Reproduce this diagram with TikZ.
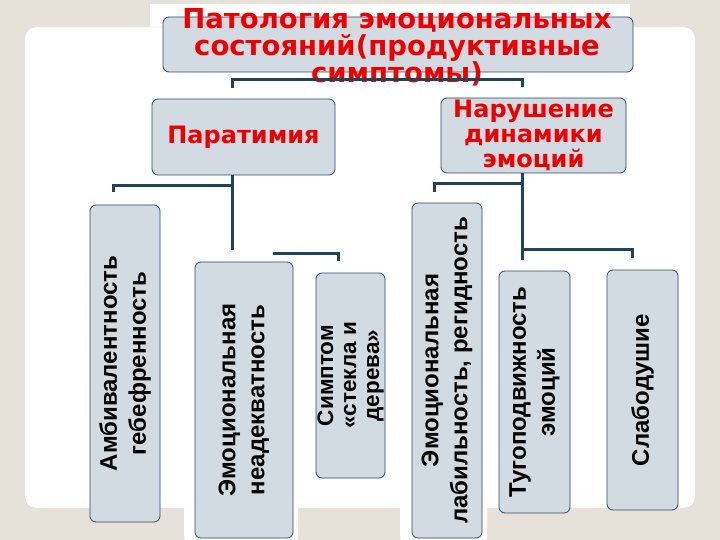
\documentclass[tikz,border=0pt]{standalone}
\usepackage{fontspec}
\setmainfont{Liberation Sans}
\newfontfamily\headfont{DejaVu Sans}
\usetikzlibrary{positioning,calc}

\definecolor{beige}{HTML}{E6E1D9}
\definecolor{boxfill}{HTML}{D3DBE2}
\definecolor{boxline}{HTML}{2C4A63}
\definecolor{wire}{HTML}{1F4459}
\definecolor{headred}{HTML}{EE0000}

\begin{document}
\begin{tikzpicture}[x=1pt,y=-1pt,
        box/.style={draw=boxline, line width=0.8pt, fill=boxfill, rounded corners=6pt, inner sep=0pt, align=center},
        headbox/.style={box, font=\headfont\bfseries\fontsize{24}{25}\selectfont, text=headred},
        headtxt/.style={align=center, font=\headfont\bfseries\fontsize{27.5}{27}\selectfont, text=headred},
        sidebox/.style={box, rotate=90, font=\bfseries\fontsize{24}{29}\selectfont},
        link/.style={draw=wire, line width=3pt, line join=miter}
    ]
        % background, panel and tab
        \fill[beige] (0,0) rectangle (720,540);
        \useasboundingbox (0,0) rectangle (720,540);
        \fill[white] (150,4) rectangle (630,40);
        \filldraw[fill=white, draw=black!15, rounded corners=10pt] (25,27) rectangle (695,508);
        \fill[white, rounded corners=8pt] (184,250) rectangle (298,545);
        \fill[white, rounded corners=8pt] (400,196) rectangle (487,545);

        % top level
        \node[box, minimum width=470pt, minimum height=55pt] (title) at (398,44.5) {};
        \node[headtxt] (titletxt) at (397,47) {Патология эмоциональных\\состояний(продуктивные\\симптомы)};
        \node[headbox, minimum width=183pt, minimum height=76pt] (parat) at (243.5,137) {Паратимия};
        \node[headbox, minimum width=185pt, minimum height=75pt] (narush) at (533.5,135.5) {Нарушение\\динамики\\эмоций};

        % vertical boxes
        \node[sidebox, minimum width=317pt, minimum height=70pt] (amb) at (125,363.5) {Амбивалентность\\гебефренность};
        \node[sidebox, minimum width=276pt, minimum height=98pt] (neadekv) at (244,400) {Эмоциональная\\неадекватность};
        \node[sidebox, minimum width=205pt, minimum height=69pt, font=\bfseries\fontsize{22.5}{23}\selectfont] (simpt) at (350.5,375.5) {Симптом\\«стекла и\\дерева»};
        \node[sidebox, minimum width=335pt, minimum height=70pt] (lab) at (447,370.5) {Эмоциональная\\лабильность, регидность};
        \node[sidebox, minimum width=242pt, minimum height=71pt] (tug) at (534.5,392) {Тугоподвижность\\эмоций};
        \node[sidebox, minimum width=240pt, minimum height=71pt] (slab) at (642.5,390) {Слабодушие};

        % connectors
        \draw[link] ([xshift=-11pt,yshift=11pt]parat.north) |- ([yshift=19pt]parat.north) -| ([xshift=-11pt,yshift=11pt]narush.north);

        \coordinate (pj) at ([xshift=-11pt]parat.south);
        \draw[link] (pj) -- ([yshift=12pt]pj |- neadekv.east);
        \draw[link] ([yshift=-10pt]pj) -| ([xshift=-12pt,yshift=13pt]amb.east);
        \coordinate (sj) at (273,253);
        \draw[link] (sj) -| ([xshift=-12pt,yshift=12pt]simpt.east);

        \coordinate (nj) at ([xshift=-11pt]narush.south);
        \draw[link] (nj) -- ([yshift=11pt]nj |- tug.east);
        \draw[link] ([yshift=-10pt]nj) -| ([xshift=-13pt,yshift=11pt]lab.east);
        \draw[link] ([yshift=-76pt]nj) -| ([xshift=-10.5pt,yshift=12pt]slab.east);
    \end{tikzpicture}
\end{document}
